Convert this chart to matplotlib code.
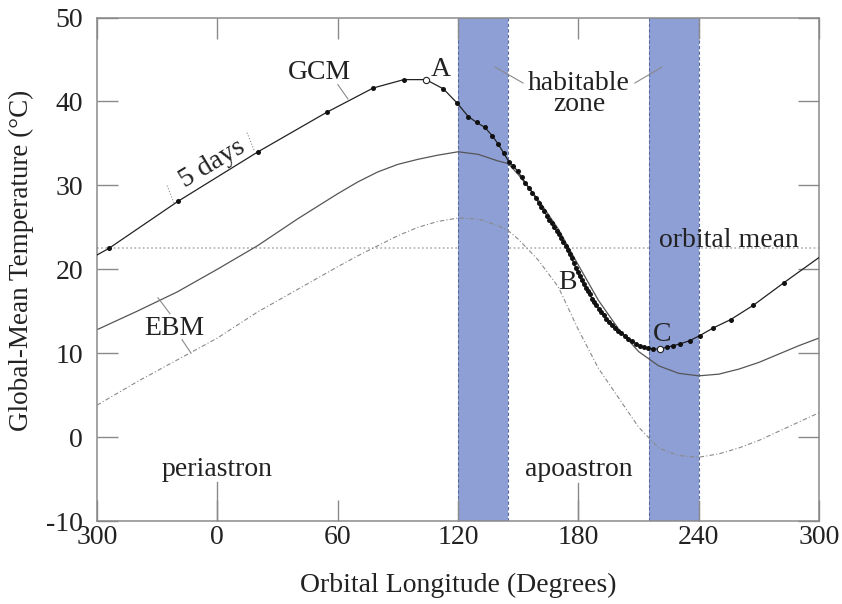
import matplotlib
matplotlib.use('Agg')
import matplotlib.pyplot as plt
import numpy as np

# orbital longitude in degrees from periastron; -60 stands for 300 (the axis runs 300 -> 300)
# GCM output points (one every 5 days)
gcm_lon = [-54, -19.6, 20.3, 54.5, 77.7, 93, 104, 112.7, 119.6, 125.1, 129.3, 133.4, 137.1,
           140.1, 142.9, 145.4, 147.6, 149.7, 151.7, 153.6, 155.4, 157.1, 158.7, 160.2, 161.6,
           163.0, 164.3, 165.6, 166.8, 168.0, 169.2, 170.3, 171.4, 172.5, 173.6, 174.6, 175.6,
           176.6, 177.6, 178.6, 179.6, 180.6, 181.6, 182.6, 183.6, 184.6, 185.7, 186.8, 187.9,
           189.0, 190.2, 191.4, 192.7, 194.0, 195.4, 196.8, 198.3, 199.9, 201.5, 203.2, 205.0,
           206.9, 208.9, 210.9, 212.9, 214.8, 217.3, 220.7, 224.0, 227.3, 230.6, 235.6, 240.6,
           247.2, 255.9, 267.2, 282.5]
gcm_temp = [22.5, 28.1, 34.0, 38.7, 41.6, 42.6, 42.6, 41.5, 39.8, 38.2, 37.5, 36.9, 35.9,
            34.9, 33.8, 32.8, 32.3, 31.7, 31.0, 30.3, 29.7, 29.1, 28.5, 27.9, 27.4,
            26.9, 26.4, 25.9, 25.5, 25.0, 24.6, 24.2, 23.7, 23.3, 22.8, 22.3, 21.8,
            21.3, 20.8, 20.2, 19.7, 19.2, 18.7, 18.2, 17.8, 17.4, 17.0, 16.5, 16.1,
            15.7, 15.3, 14.9, 14.5, 14.1, 13.7, 13.4, 13.0, 12.7, 12.4, 12.1, 11.7,
            11.4, 11.1, 10.9, 10.7, 10.6, 10.5, 10.5, 10.7, 10.9, 11.1, 11.5, 12.1,
            13.0, 14.0, 15.7, 18.4]
# GCM curve at the two ends of the plotted orbit
gcm_edge_lon = [-60, 300]
gcm_edge_temp = [21.7, 21.4]
# marked states A and C (open circles)
open_lon = [104, 220.7]
open_temp = [42.6, 10.5]

# energy balance model curves
ebm_lon = [-60, -40, -20, 0, 20, 40, 60, 70, 80, 90, 100, 110, 120, 130, 140, 145, 150, 160,
           170, 180, 190, 200, 210, 220, 230, 240, 250, 260, 270, 280, 290, 300]
ebm_temp = [12.8, 15.0, 17.3, 20.0, 22.8, 26.0, 29.0, 30.4, 31.6, 32.5, 33.1, 33.6, 34.0, 33.7,
            32.9, 32.6, 31.3, 28.3, 24.8, 20.5, 16.3, 12.9, 10.2, 8.5, 7.6, 7.3, 7.5, 8.1, 8.9,
            9.9, 10.9, 11.8]
ebm2_temp = [3.8, 6.6, 9.2, 11.8, 14.9, 17.6, 20.3, 21.6, 22.8, 24.0, 25.0, 25.7, 26.1, 26.0,
             25.2, 24.6, 23.6, 21.1, 17.9, 12.8, 8.2, 4.7, 1.2, -1.3, -2.2, -2.4, -2.0, -1.3,
             -0.4, 0.7, 1.8, 2.9]

orbital_mean = 22.5
habitable_zones = [(120, 145), (215, 240)]

x_ticks = [-60, 0, 60, 120, 180, 240, 300]
y_ticks = [-10, 0, 10, 20, 30, 40, 50]


def make_graph():
    plt.rcParams['font.family'] = ['Liberation Serif', 'DejaVu Serif']
    plt.rcParams['axes.unicode_minus'] = False

    fig = plt.figure(figsize=[8.42, 6.04], dpi=100)
    ax = fig.add_axes([0.1152, 0.1374, 0.8575, 0.8336])

    txt = '#222222'
    grey = '#8a8a8a'

    # habitable zone bands
    for lo, hi in habitable_zones:
        ax.axvspan(lo, hi, color='#8e9fd5', lw=0, zorder=1)
        for edge in (lo, hi):
            ax.axvline(edge, color='#5a6a9a', lw=0.8, ls=(0, (3, 2)), zorder=1.5)

    ax.axhline(orbital_mean, color='#b0b0b0', lw=1.2, ls=(0, (1, 1.5)), zorder=0.5)

    # EBM curves
    ax.plot(ebm_lon, ebm_temp, color='#555555', lw=0.9, zorder=2)
    ax.plot(ebm_lon, ebm2_temp, color='#8a8a8a', lw=0.8, ls=(0, (4, 2, 1, 2)), zorder=2)

    # GCM line and points
    line_lon = np.array(gcm_lon + gcm_edge_lon)
    line_temp = np.array(gcm_temp + gcm_edge_temp)
    order = np.argsort(line_lon)
    ax.plot(line_lon[order], line_temp[order], color='#222222', lw=0.9, zorder=3)
    ax.plot(gcm_lon, gcm_temp, 'o', color='#111111', ms=3.6, mew=0, zorder=4)
    ax.plot(open_lon, open_temp, 'o', mfc='white', mec='#222222', ms=4.5, mew=0.8, zorder=5)

    # labels on the plot
    font = {'family': 'Liberation Serif', 'size': 20, 'color': txt}
    ax.text(51, 43.4, 'GCM', ha='center', va='center', fontdict=font)
    ax.plot([60.1, 65.1], [42.0, 40.3], color=grey, lw=0.8)
    ax.text(-2.5, 32.6, '5 days', ha='center', va='center', rotation=31, fontdict=font)
    ax.plot([-21.6, -25.1], [27.9, 30.0], color=grey, lw=0.8, ls=':')
    ax.plot([18.3, 14.8], [34.2, 36.3], color=grey, lw=0.8, ls=':')
    ax.text(111.5, 43.8, 'A', ha='center', va='center', fontdict=font)
    ax.text(180.4, 40.9, 'habitable\nzone', ha='center', va='center', linespacing=0.75,
            fontdict=font)
    ax.plot([138.4, 152.4], [44.1, 42.2], color=grey, lw=0.8)
    ax.plot([208.2, 221.7], [42.2, 44.1], color=grey, lw=0.8)
    ax.text(255, 22.7, 'orbital mean', ha='center', va='baseline', fontdict=font)
    ax.text(174.8, 18.4, 'B', ha='center', va='center', fontdict=font)
    ax.text(221.7, 12.2, 'C', ha='center', va='center', fontdict=font)
    ax.text(-21.6, 12.9, 'EBM', ha='center', va='center', fontdict=font)
    ax.plot([-29.6, -23.6], [16.6, 14.7], color=grey, lw=0.8)
    ax.plot([-17.6, -13.1], [11.6, 10.0], color=grey, lw=0.8)
    ax.text(0, -3.9, 'periastron', ha='center', va='center', fontdict=font)
    ax.plot([0, 0], [-5.4, -10], color=grey, lw=1.0)
    ax.text(180, -3.9, 'apoastron', ha='center', va='center', fontdict=font)
    ax.plot([180, 180], [-5.5, -10], color=grey, lw=1.0)

    ax.set_xlim(-60, 300)
    ax.set_ylim(-10, 50)
    ax.set_xticks(x_ticks)
    ax.set_xticklabels(['%d' % (t % 360) for t in x_ticks])
    ax.set_yticks(y_ticks)
    ax.set_yticklabels(['%d' % t for t in y_ticks])

    for s in ax.spines.values():
        s.set_color(grey)
        s.set_linewidth(1.1)
    ax.tick_params(direction='in', length=15, width=1.0, color=grey,
                   top=True, right=True, labelsize=20, labelcolor=txt)
    ax.tick_params(axis='x', pad=3)
    ax.tick_params(axis='y', pad=10)

    ax.set_xlabel('Orbital Longitude (Degrees)', fontsize=20, color=txt, va='center')
    ax.xaxis.set_label_coords(0.5, -0.128)
    ax.set_ylabel('Global-Mean Temperature (°C)', fontsize=19.5, color=txt, va='center')
    ax.yaxis.set_label_coords(-0.104, 0.518)

    plt.savefig('out.png', dpi=100)


if __name__ == '__main__':
    make_graph()
